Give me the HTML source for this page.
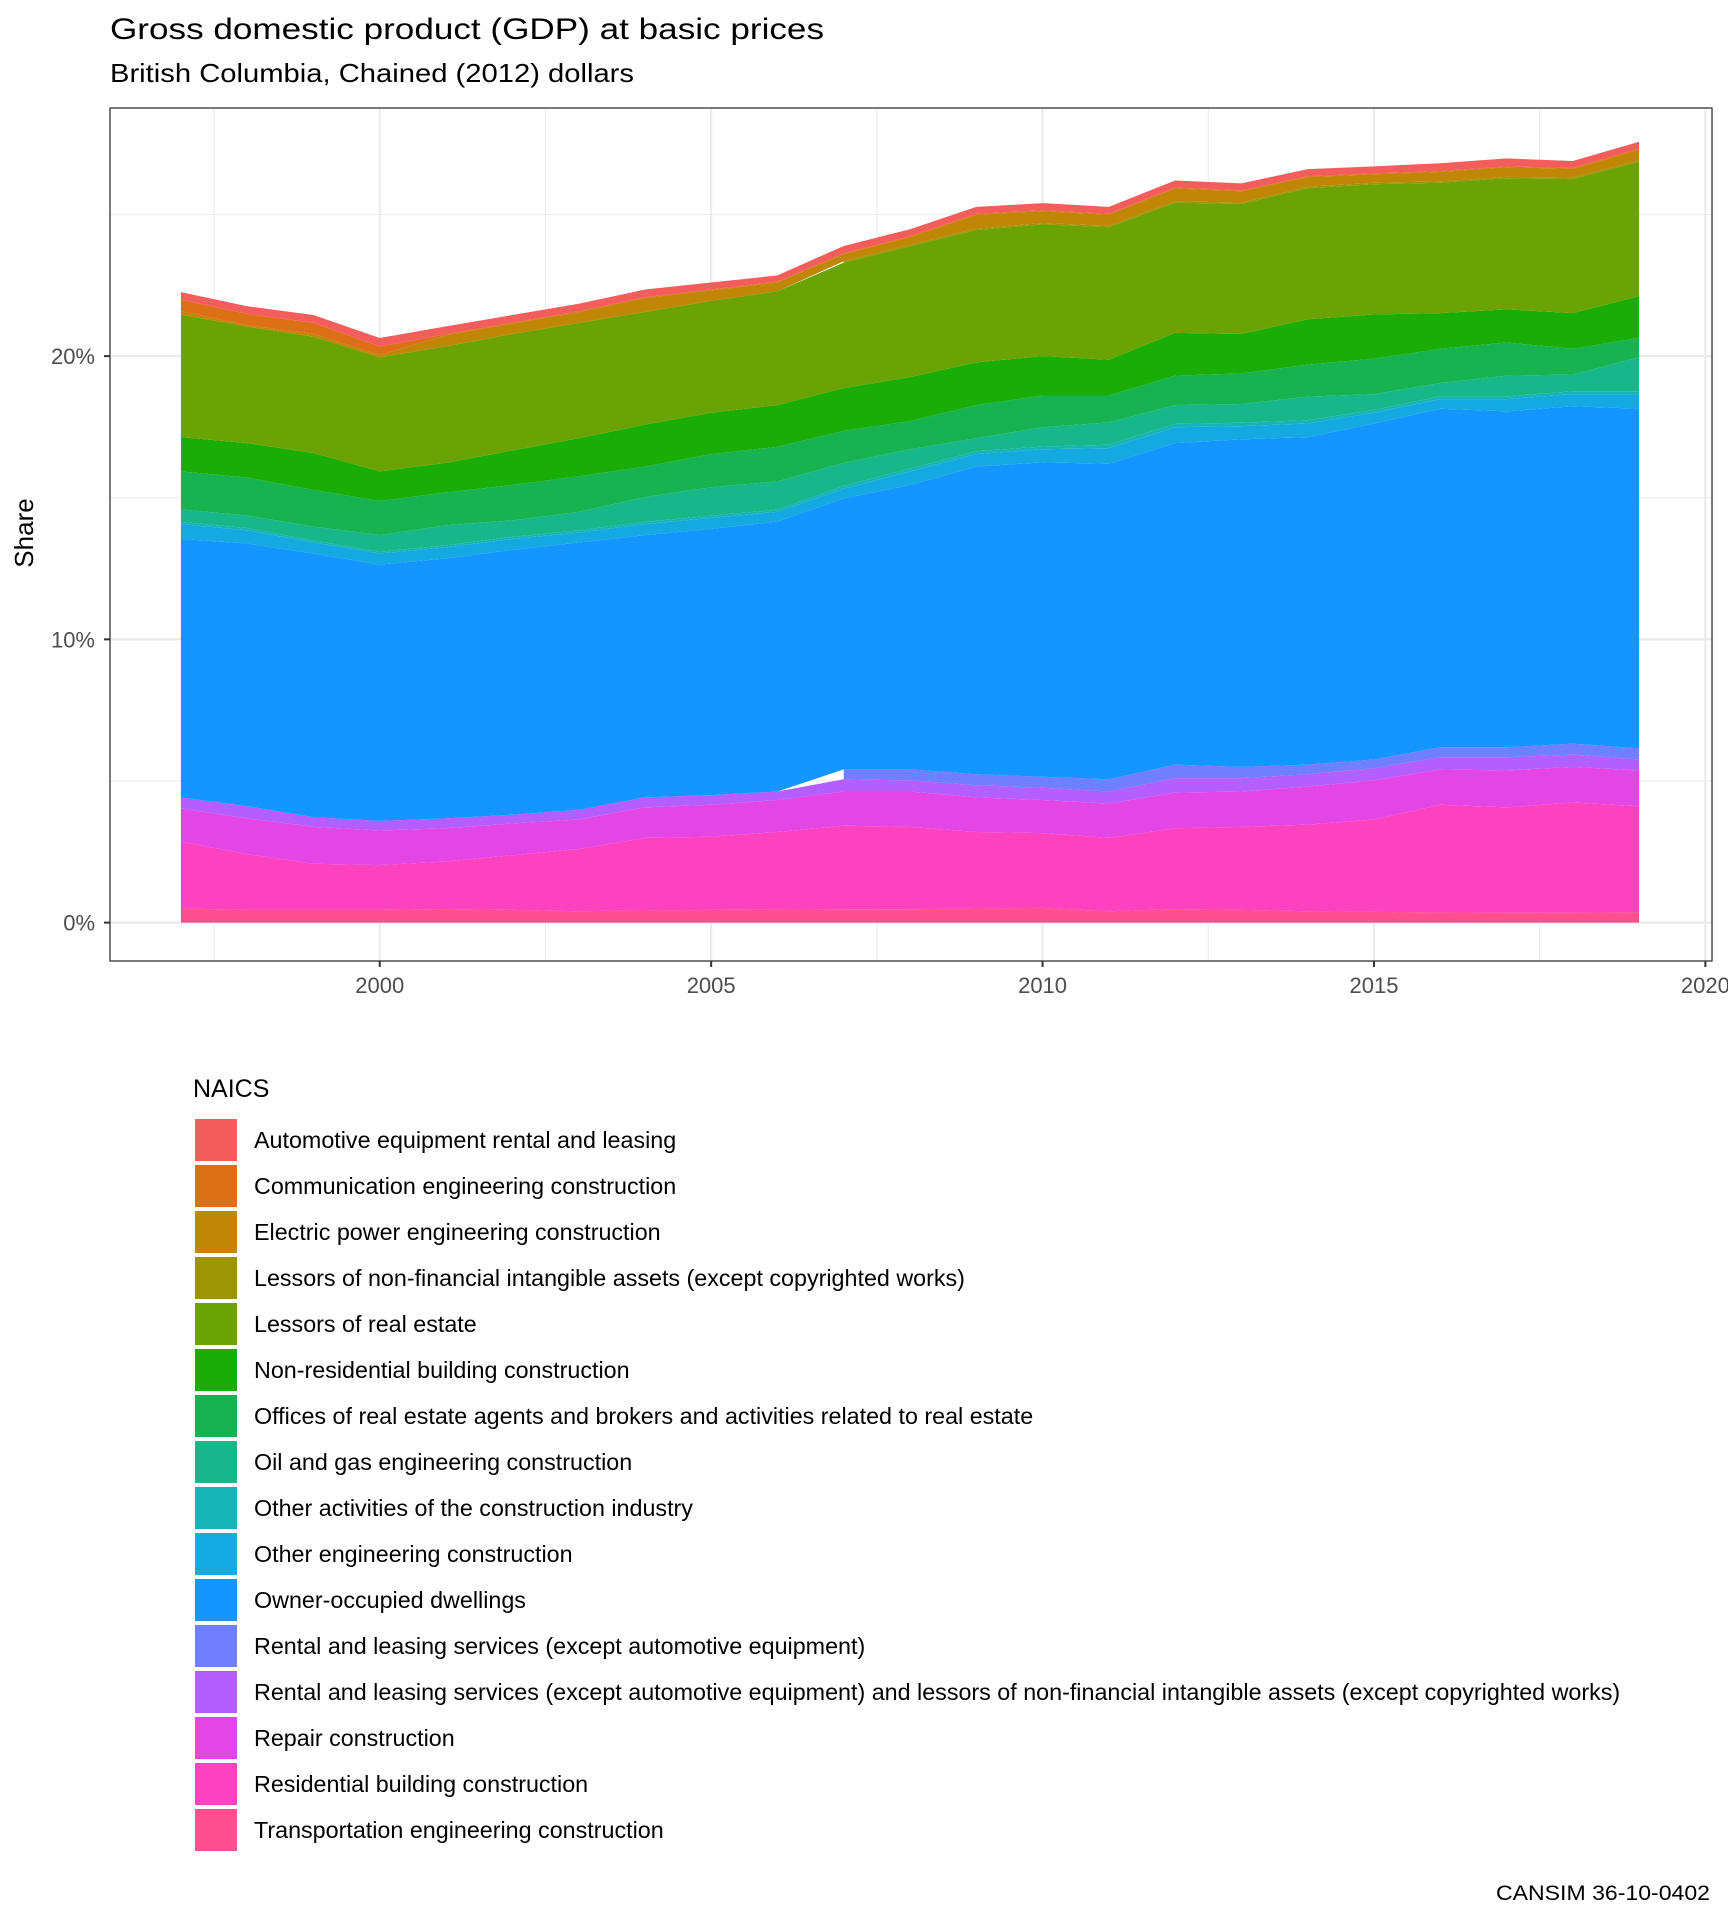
<!DOCTYPE html>
<html><head><meta charset="utf-8"><title>GDP at basic prices - British Columbia</title>
<style>
html,body{margin:0;padding:0;background:#fff;}
svg{display:block;font-family:"Liberation Sans",Arial,sans-serif;}
</style></head>
<body>
<svg id="chart" width="1728" height="1920" viewBox="0 0 1728 1920" xmlns="http://www.w3.org/2000/svg">
  <rect x="0" y="0" width="1728" height="1920" fill="#fff"/>
  <text x="110" y="39" font-size="30" fill="#000" textLength="714" lengthAdjust="spacingAndGlyphs">Gross domestic product (GDP) at basic prices</text>
  <text x="110" y="82" font-size="26" fill="#000" textLength="524" lengthAdjust="spacingAndGlyphs">British Columbia, Chained (2012) dollars</text>
  <g id="grid"></g>
  <g id="areas"></g>
  <rect x="110" y="108" width="1602" height="853" fill="none" stroke="#333" stroke-width="1.3"/>
  <g id="axes"></g>
  <text transform="translate(33,533) rotate(-90)" text-anchor="middle" font-size="26" fill="#000">Share</text>
  <text x="193" y="1097" font-size="25" fill="#000">NAICS</text>
  <g id="legend"></g>
  <text x="1710" y="1900" text-anchor="end" font-size="21" fill="#000" textLength="214" lengthAdjust="spacingAndGlyphs">CANSIM 36-10-0402</text>
</svg>
<script>
const years = [1997,1998,1999,2000,2001,2002,2003,2004,2005,2006,2007,2008,2009,2010,2011,2012,2013,2014,2015,2016,2017,2018,2019];
const N = null;
// series values (% share), bottom of stack first
const transportation = [0.5,0.45,0.45,0.45,0.48,0.45,0.4,0.43,0.45,0.46,0.47,0.47,0.5,0.52,0.4,0.48,0.45,0.4,0.38,0.36,0.35,0.35,0.37];
const residential = [2.36,1.97,1.63,1.58,1.68,1.93,2.2,2.56,2.58,2.74,2.95,2.91,2.7,2.64,2.59,2.85,2.93,3.06,3.26,3.8,3.72,3.89,3.74];
const repair = [1.17,1.26,1.3,1.22,1.17,1.12,1.04,1.08,1.13,1.13,1.21,1.25,1.22,1.17,1.21,1.26,1.25,1.34,1.38,1.25,1.3,1.26,1.26];
const rentalAndLessors = [0.39,0.43,0.34,0.34,0.35,0.31,0.34,0.35,0.34,0.3,0.43,0.39,0.43,0.43,0.43,0.51,0.47,0.44,0.43,0.43,0.47,0.43,0.39];
const rentalLeasing = [N,N,N,N,N,N,N,N,N,N,0.35,0.39,0.39,0.39,0.43,0.48,0.4,0.34,0.31,0.35,0.35,0.39,0.39];
const ownerOccupied = [9.13,9.27,9.31,9.05,9.18,9.35,9.44,9.26,9.4,9.53,9.57,10.04,10.86,11.1,11.14,11.35,11.56,11.56,11.86,11.95,11.86,11.91,11.99];
const otherEngineering = [0.52,0.47,0.39,0.39,0.39,0.39,0.35,0.39,0.39,0.34,0.34,0.48,0.44,0.46,0.55,0.56,0.47,0.48,0.38,0.34,0.43,0.43,0.52];
const otherActivities = [0.08,0.08,0.07,0.07,0.07,0.07,0.08,0.08,0.08,0.08,0.1,0.1,0.1,0.1,0.12,0.12,0.12,0.12,0.1,0.1,0.1,0.1,0.1];
const oilGas = [0.44,0.44,0.49,0.58,0.71,0.58,0.65,0.87,1.0,1.0,0.81,0.68,0.46,0.68,0.79,0.66,0.66,0.83,0.56,0.47,0.73,0.59,1.2];
const realEstateAgents = [1.34,1.34,1.3,1.21,1.16,1.25,1.26,1.08,1.17,1.22,1.13,1.0,1.17,1.12,0.95,1.04,1.08,1.13,1.25,1.21,1.17,0.91,0.69];
const nonResidential = [1.21,1.22,1.3,1.04,1.04,1.22,1.34,1.48,1.46,1.47,1.51,1.55,1.51,1.39,1.26,1.51,1.39,1.6,1.56,1.26,1.17,1.26,1.47];
const lessorsRealEstate = [4.33,4.11,4.11,4.03,4.12,4.11,4.07,3.98,3.95,4.02,4.43,4.62,4.67,4.65,4.68,4.6,4.59,4.63,4.6,4.6,4.63,4.73,4.74];
const lessorsIntangible = [N,N,N,N,N,N,N,N,N,N,0.05,0.05,0.05,0.05,0.05,0.05,0.05,0.05,0.05,0.05,0.05,0.05,0.05];
const electricPower = [0.12,0.05,0.09,0.08,0.39,0.37,0.38,0.49,0.37,0.31,0.25,0.27,0.49,0.42,0.39,0.45,0.4,0.34,0.3,0.33,0.34,0.31,0.38];
const communication = [0.4,0.4,0.4,0.3,0.03,0.03,0.03,0.03,0.03,0.03,0.03,0.03,0.03,0.03,0.03,0.03,0.03,0.03,0.03,0.03,0.03,0.03,0.03];
const automotive = [0.27,0.27,0.27,0.3,0.28,0.27,0.27,0.27,0.25,0.22,0.26,0.25,0.25,0.25,0.25,0.25,0.25,0.25,0.25,0.28,0.28,0.25,0.25];

const xTickLabels = ["2000","2005","2010","2015","2020"];
const xTickValues = [2000,2005,2010,2015,2020];
const yTickLabels = ["0%","10%","20%"];
const yTickValues = [0,10,20];

const legendLabels = ["Automotive equipment rental and leasing","Communication engineering construction","Electric power engineering construction","Lessors of non-financial intangible assets (except copyrighted works)","Lessors of real estate","Non-residential building construction","Offices of real estate agents and brokers and activities related to real estate","Oil and gas engineering construction","Other activities of the construction industry","Other engineering construction","Owner-occupied dwellings","Rental and leasing services (except automotive equipment)","Rental and leasing services (except automotive equipment) and lessors of non-financial intangible assets (except copyrighted works)","Repair construction","Residential building construction","Transportation engineering construction"];
const legendColors = ["#F35E5C","#DD6F17","#C08606","#9D9406","#6BA305","#19AD06","#17B350","#17B78A","#15B5B7","#14A9E0","#1396FF","#6F7FFF","#B45EFF","#E446E6","#FD42BF","#FF4F8E"];

// stack order bottom -> top, each paired with legend index
const stack = [
  [transportation,15],[residential,14],[repair,13],[rentalAndLessors,12],[rentalLeasing,11],
  [ownerOccupied,10],[otherEngineering,9],[otherActivities,8],[oilGas,7],[realEstateAgents,6],
  [nonResidential,5],[lessorsRealEstate,4],[lessorsIntangible,3],[electricPower,2],[communication,1],[automotive,0]
];

const NS = "http://www.w3.org/2000/svg";
const X0 = 110, X1 = 1712, Y0 = 108, Y1 = 961;
const xMin = 1995.93, xMax = 2020.1, yMin = -1.355, yMax = 28.76;
function xs(v){ return X0 + (v - xMin) / (xMax - xMin) * (X1 - X0); }
function ys(v){ return Y1 - (v - yMin) / (yMax - yMin) * (Y1 - Y0); }
function mk(tag, attrs, parent){ const e = document.createElementNS(NS, tag); for (const k in attrs) e.setAttribute(k, attrs[k]); parent.appendChild(e); return e; }

// grid
const grid = document.getElementById('grid');
for (let v = 2.5; v < 28; v += 10) {
  const l = mk('line', {x1:X0, x2:X1, y1:ys(v+2.5), y2:ys(v+2.5), stroke:'#EBEBEB', 'stroke-width':1.1}, grid);
  
  
}
for (let v = 1997.5; v < 2020; v += 5) {
  const l = mk('line', {x1:xs(v), x2:xs(v), y1:Y0, y2:Y1, stroke:'#EBEBEB', 'stroke-width':1.1}, grid);
  
  
}
yTickValues.forEach(v => {
  const l = mk('line', {x1:X0, x2:X1, y1:ys(v), y2:ys(v), stroke:'#EBEBEB', 'stroke-width':2.2}, grid);
  
  
});
xTickValues.forEach(v => {
  const l = mk('line', {x1:xs(v), x2:xs(v), y1:Y0, y2:Y1, stroke:'#EBEBEB', 'stroke-width':2.2}, grid);
  
  
});

// stacked areas
const areas = document.getElementById('areas');
const cum = years.map(() => 0);
stack.forEach(([vals, li]) => {
  const lower = cum.slice();
  const upper = cum.map((c, i) => c + (vals[i] == null ? 0 : vals[i]));
  const idx = years.map((y, i) => i).filter(i => vals[i] != null);
  if (idx.length) {
    let pts = idx.map(i => xs(years[i]).toFixed(2) + ',' + ys(upper[i]).toFixed(2));
    pts = pts.concat(idx.slice().reverse().map(i => xs(years[i]).toFixed(2) + ',' + ys(lower[i]).toFixed(2)));
    const p = mk('polygon', {points: pts.join(' '), fill: legendColors[li]}, areas);
    
    
  }
  for (let i = 0; i < cum.length; i++) cum[i] = upper[i];
});

// axes
const axes = document.getElementById('axes');
yTickValues.forEach((v, i) => {
  const t = mk('line', {x1:X0-6, x2:X0, y1:ys(v), y2:ys(v), stroke:'#333', 'stroke-width':2}, axes);
  
  
  const tx = mk('text', {x:X0-15, y:ys(v)+8, 'text-anchor':'end', 'font-size':22, fill:'#4D4D4D'}, axes);
  tx.textContent = yTickLabels[i];
  
  
});
xTickValues.forEach((v, i) => {
  const t = mk('line', {x1:xs(v), x2:xs(v), y1:Y1, y2:Y1+6, stroke:'#333', 'stroke-width':2}, axes);
  
  
  const tx = mk('text', {x:xs(v), y:Y1+32, 'text-anchor':'middle', 'font-size':22, fill:'#4D4D4D'}, axes);
  tx.textContent = xTickLabels[i];
  
  
});

// legend
const legend = document.getElementById('legend');
legendLabels.forEach((lab, i) => {
  const top = 1119 + 46 * i;
  const r = mk('rect', {x:195, y:top, width:42, height:42, fill:legendColors[i]}, legend);
  
  
  const tx = mk('text', {x:254, y:top + 29, 'font-size':23.3, fill:'#000'}, legend);
  tx.textContent = lab;
  
  
});
</script>
</body></html>
